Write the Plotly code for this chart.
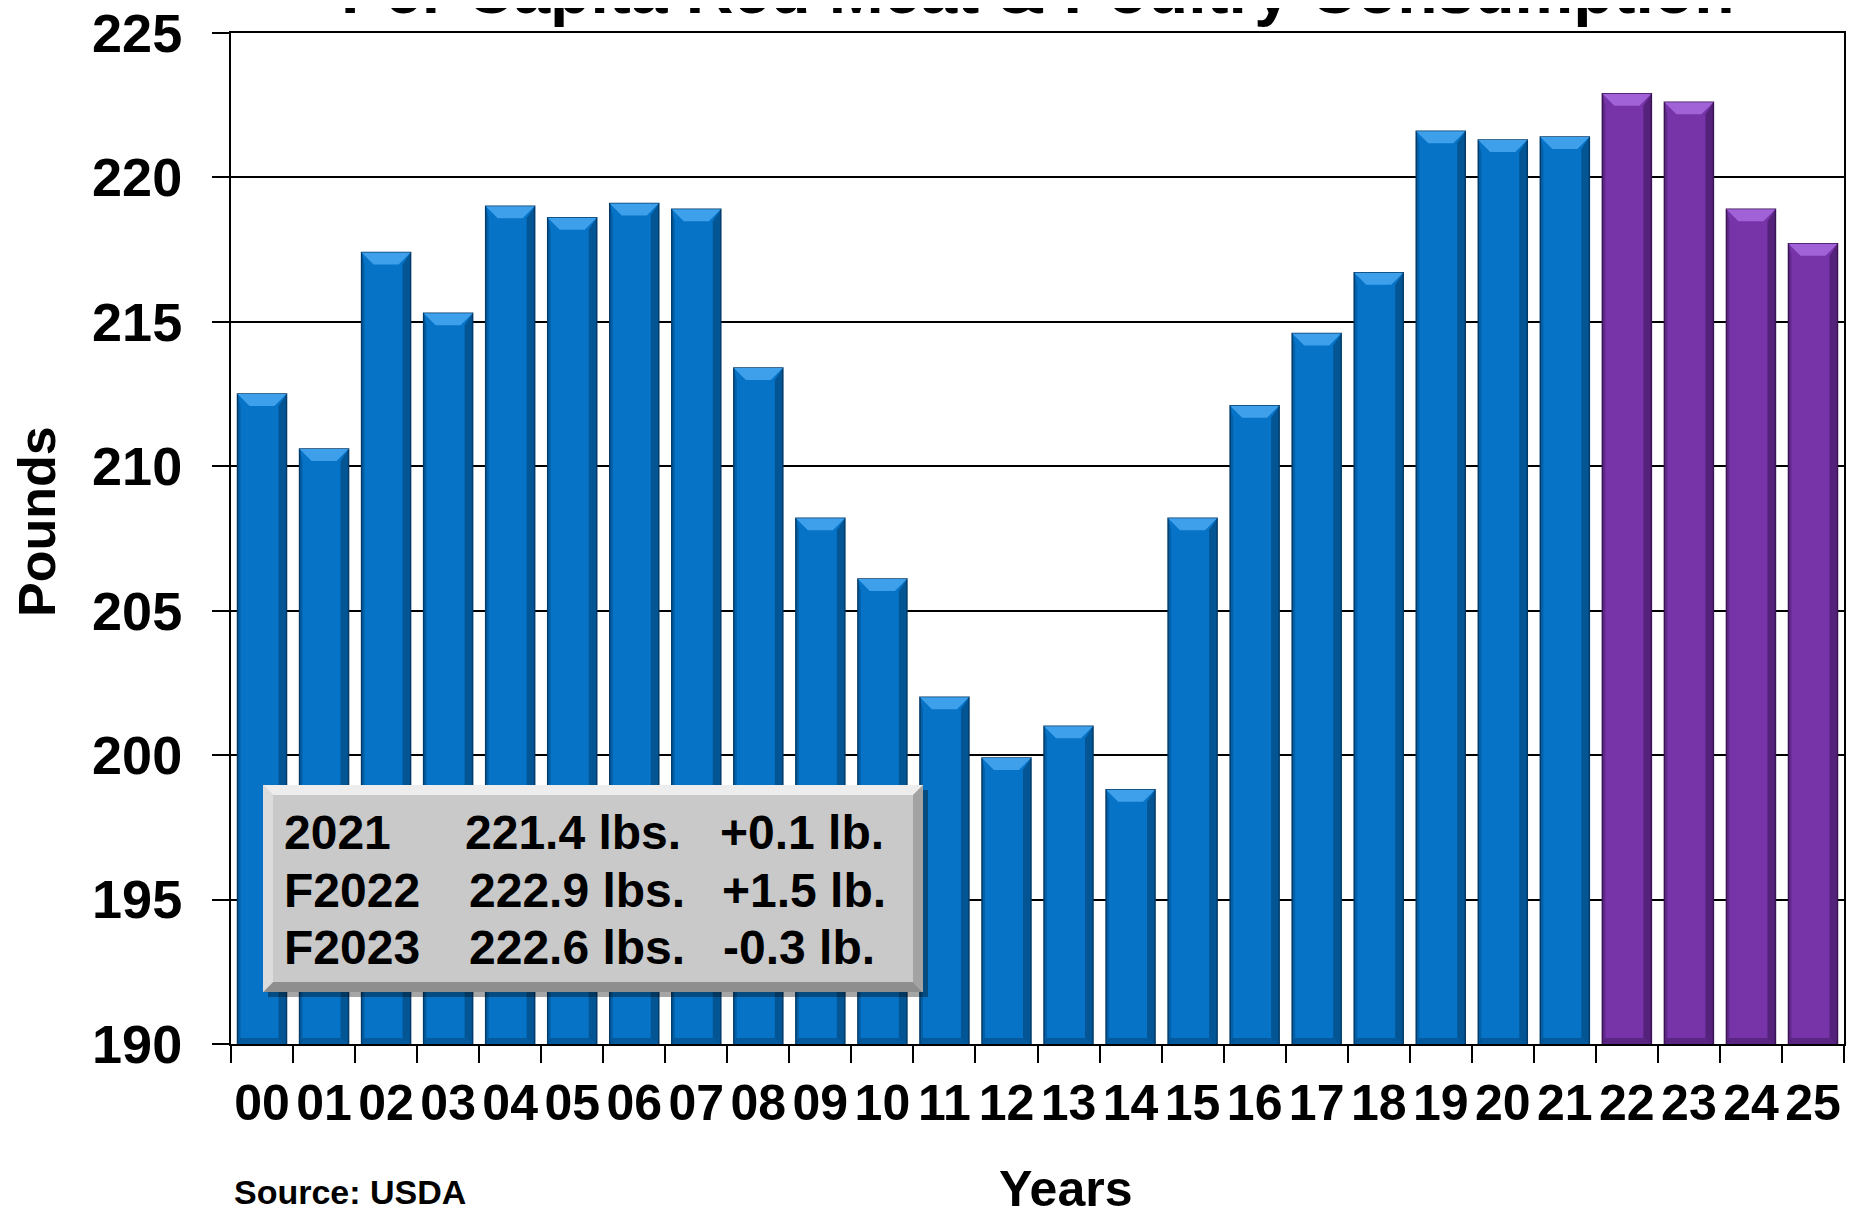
import plotly.graph_objects as go

# ---------------- data ----------------
years = ["00", "01", "02", "03", "04", "05", "06", "07", "08", "09", "10", "11", "12",
         "13", "14", "15", "16", "17", "18", "19", "20", "21", "22", "23", "24", "25"]
pounds = [212.5, 210.6, 217.4, 215.3, 219.0, 218.6, 219.1, 218.9, 213.4, 208.2, 206.1, 202.0,
          199.9, 201.0, 198.8, 208.2, 212.1, 214.6, 216.7, 221.6, 221.3, 221.4, 222.9, 222.6,
          218.9, 217.7]
forecast_from = "22"

box_years = ["2021", "F2022", "F2023"]
box_lbs = ["221.4 lbs.", "222.9 lbs.", "222.6 lbs."]
box_change = ["+0.1 lb.", "+1.5 lb.", "-0.3 lb."]

title_text = "Per Capita Red Meat & Poultry Consumption"
y_ticks = [190, 195, 200, 205, 210, 215, 220, 225]

# ---------------- layout constants ----------------
OFF = 8                      # page body margin of the browser
W, H = 1860, 1216
L = 231 - OFF
T = 33 - OFF
R = W - (1844 - OFF)
B = H - (1044 - OFF)
PW, PH = W - L - R, H - T - B
FONT = "Liberation Sans, Arial, sans-serif"

BLUE, BLUE_TOP, BLUE_DARK = "#0673C6", "#3E9FEA", "#033C6B"
PURP, PURP_TOP, PURP_DARK = "#7634A8", "#A062D6", "#3B1456"


def px_x(sx):
    """screen x (pixels) -> paper x"""
    return (sx - OFF - L) / PW


def px_y(sy):
    """screen y (pixels) -> paper y"""
    return (H - B - (sy - OFF)) / PH


fi = years.index(forecast_from)
colors = [BLUE if i < fi else PURP for i in range(len(years))]
darks = [BLUE_DARK if i < fi else PURP_DARK for i in range(len(years))]

fig = go.Figure()
fig.add_trace(go.Bar(
    x=years, y=pounds, base=0,
    marker=dict(color=colors, line=dict(color=darks, width=1.5)),
    width=0.79, showlegend=False, hoverinfo="x+y",
))

shapes = []
bw = 0.79
uy = 35.0 / PH                 # data units per pixel (y)
ux = 1.0 / (PW / len(years))   # data units per pixel (x)
for i, v in enumerate(pounds):
    top_c = BLUE_TOP if i < fi else PURP_TOP
    dark = darks[i]
    x0, x1 = i - bw / 2, i + bw / 2
    bev_h = 12 * uy
    bev_w = 12 * ux
    # top bevel
    shapes.append(dict(type="path", xref="x", yref="y",
                       path=f"M {x0},{v} L {x1},{v} L {x1-bev_w},{v-bev_h} L {x0+bev_w},{v-bev_h} Z",
                       fillcolor=top_c, line=dict(width=0), layer="above"))
    # right dark edge
    shapes.append(dict(type="path", xref="x", yref="y",
                       path=f"M {x1},{v} L {x1},190 L {x1-8*ux},{190+6*uy} L {x1-8*ux},{v-bev_h} Z",
                       fillcolor=dark, opacity=0.55, line=dict(width=0), layer="above"))
    # left thin dark edge
    shapes.append(dict(type="path", xref="x", yref="y",
                       path=f"M {x0},{v} L {x0},190 L {x0+3*ux},{190+3*uy} L {x0+3*ux},{v-bev_h} Z",
                       fillcolor=dark, opacity=0.35, line=dict(width=0), layer="above"))
    # bottom dark bevel
    shapes.append(dict(type="path", xref="x", yref="y",
                       path=f"M {x0},190 L {x1},190 L {x1-8*ux},{190+6*uy} L {x0+3*ux},{190+6*uy} Z",
                       fillcolor=dark, opacity=0.45, line=dict(width=0), layer="above"))

# ---------------- grey info box ----------------
bx0, bx1, by0, by1 = 263, 923, 785, 992
bev = 10


def ppath(pts):
    return "M " + " L ".join(f"{px_x(a)},{px_y(b)}" for a, b in pts) + " Z"


shapes.append(dict(type="rect", xref="paper", yref="paper",
                   x0=px_x(bx0 + 5), x1=px_x(bx1 + 5), y0=px_y(by1 + 5), y1=px_y(by0 + 5),
                   fillcolor="rgba(0,0,0,0.35)", line=dict(width=0), layer="above"))
shapes.append(dict(type="rect", xref="paper", yref="paper",
                   x0=px_x(bx0), x1=px_x(bx1), y0=px_y(by1), y1=px_y(by0),
                   fillcolor="#C9C9C9", line=dict(width=0), layer="above"))
shapes.append(dict(type="path", xref="paper", yref="paper",
                   path=ppath([(bx0, by0), (bx1, by0), (bx1 - bev, by0 + bev), (bx0 + bev, by0 + bev)]),
                   fillcolor="#EDEDED", line=dict(width=0), layer="above"))
shapes.append(dict(type="path", xref="paper", yref="paper",
                   path=ppath([(bx0, by1), (bx1, by1), (bx1 - bev, by1 - bev), (bx0 + bev, by1 - bev)]),
                   fillcolor="#8E8E8E", line=dict(width=0), layer="above"))
shapes.append(dict(type="path", xref="paper", yref="paper",
                   path=ppath([(bx0, by0), (bx0 + bev, by0 + bev), (bx0 + bev, by1 - bev), (bx0, by1)]),
                   fillcolor="#DCDCDC", line=dict(width=0), layer="above"))
shapes.append(dict(type="path", xref="paper", yref="paper",
                   path=ppath([(bx1, by0), (bx1 - bev, by0 + bev), (bx1 - bev, by1 - bev), (bx1, by1)]),
                   fillcolor="#A3A3A3", line=dict(width=0), layer="above"))

annotations = []
row_y = [833, 890, 947]
col_x = [[282, 463, 718], [282, 467, 720], [282, 467, 721]]
for r in range(3):
    for c, txt in enumerate([box_years[r], box_lbs[r], box_change[r]]):
        annotations.append(dict(
            text=f"<b>{txt}</b>", xref="paper", yref="paper", x=px_x(col_x[r][c]), y=px_y(row_y[r]),
            xanchor="left", yanchor="middle", showarrow=False,
            font=dict(family=FONT, size=48, color="black"),
        ))

# title (cropped at the top of the image, as in the source)
annotations.append(dict(text=f"<b>{title_text}</b>", xref="paper", yref="paper",
                        x=px_x(1037), y=px_y(29), xanchor="center", yanchor="bottom",
                        showarrow=False, font=dict(family=FONT, size=66, color="black")))
# axis titles
annotations.append(dict(text="<b>Pounds</b>", xref="paper", yref="paper",
                        x=px_x(37), y=px_y(522), xanchor="center", yanchor="middle",
                        textangle=-90, showarrow=False,
                        font=dict(family=FONT, size=52, color="black")))
annotations.append(dict(text="<b>Years</b>", xref="paper", yref="paper",
                        x=px_x(1065), y=px_y(1189), xanchor="center", yanchor="middle",
                        showarrow=False, font=dict(family=FONT, size=50, color="black")))
annotations.append(dict(text="<b>Source: USDA</b>", xref="paper", yref="paper",
                        x=px_x(232), y=px_y(1192), xanchor="left", yanchor="middle",
                        showarrow=False, font=dict(family=FONT, size=34, color="black")))

fig.update_layout(
    width=W, height=H,
    margin=dict(l=L, r=R, t=T, b=B, autoexpand=False),
    paper_bgcolor="white", plot_bgcolor="white",
    shapes=shapes, annotations=annotations,
    bargap=0.21,
    font=dict(family=FONT, color="black"),
)
fig.update_xaxes(
    type="category", categoryorder="array", categoryarray=years,
    showgrid=False, showline=True, linecolor="black", linewidth=2, mirror=True,
    ticks="outside", tickson="boundaries", ticklen=17, tickwidth=2, tickcolor="black",
    tickangle=0, automargin=False, ticklabeloverflow="allow",
    tickfont=dict(family=FONT, size=50, color="black", weight="bold"),
    ticklabelstandoff=14,
)
fig.update_yaxes(
    range=[190, 225], tickvals=y_ticks, ticktext=[str(t) for t in y_ticks],
    showgrid=True, gridcolor="black", gridwidth=2,
    showline=True, linecolor="black", linewidth=2, mirror=True,
    ticks="outside", ticklen=17, tickwidth=2, tickcolor="black", automargin=False,
    ticklabeloverflow="allow",
    tickfont=dict(family=FONT, size=54, color="black", weight="bold"),
    ticklabelstandoff=19, zeroline=False,
)

fig.write_html("out.html")
